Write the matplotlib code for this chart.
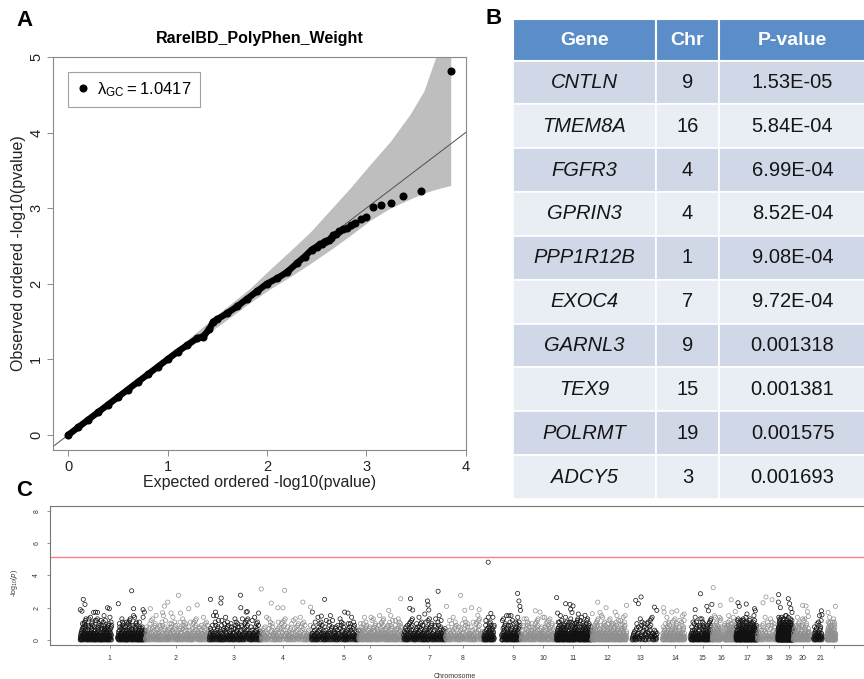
import numpy as np
import matplotlib
matplotlib.use('Agg')
import matplotlib.pyplot as plt
from matplotlib import rcParams
from matplotlib.lines import Line2D
from matplotlib.patches import Rectangle

rcParams['font.family'] = ['Liberation Sans', 'DejaVu Sans']
rcParams['mathtext.default'] = 'regular'

W, H = 864.0, 679.0   # figure size in pixels

# ---------------- panel B : top genes ----------------
top_genes = ['CNTLN', 'TMEM8A', 'FGFR3', 'GPRIN3', 'PPP1R12B',
             'EXOC4', 'GARNL3', 'TEX9', 'POLRMT', 'ADCY5']
top_chr = [9, 16, 4, 4, 1, 7, 9, 15, 19, 3]
top_pval = ['1.53E-05', '5.84E-04', '6.99E-04', '8.52E-04', '9.08E-04',
            '9.72E-04', '0.001318', '0.001381', '0.001575', '0.001693']
top_pos = [16.6, 3.7, 0.35, 89.4, 197.0, 131.3, 128.8, 57.7, 3.3, 119.4]  # Mb in chromosome

# ---------------- panel A : QQ plot ----------------
lambda_gc = 1.0417
qq_top_exp = [3.85, 3.55, 3.37, 3.25, 3.15, 3.07, 3.00, 2.95, 2.89, 2.85]
qq_tail_exp = [2.81, 2.77, 2.73, 2.70, 2.67, 2.64, 2.62, 2.59, 2.57, 2.55]
qq_tail_obs = [2.74, 2.73, 2.70, 2.66, 2.65, 2.60, 2.58, 2.56, 2.55, 2.53]
qq_body_exp = [0.00, 0.10, 0.20, 0.30, 0.40, 0.50, 0.60, 0.70, 0.80, 0.90, 1.00,
               1.10, 1.20, 1.30, 1.36, 1.42, 1.46, 1.50, 1.60, 1.70, 1.80, 1.90,
               2.00, 2.10, 2.20, 2.30, 2.38, 2.45, 2.50, 2.53]
qq_body_obs = [0.00, 0.10, 0.20, 0.30, 0.40, 0.50, 0.60, 0.70, 0.80, 0.90, 1.00,
               1.10, 1.19, 1.28, 1.30, 1.40, 1.50, 1.53, 1.61, 1.70, 1.80, 1.90,
               2.00, 2.07, 2.15, 2.27, 2.36, 2.45, 2.49, 2.52]
ci_exp = [1.00, 1.50, 1.83, 2.03, 2.23, 2.44, 2.64, 2.84, 3.04, 3.24, 3.44, 3.58, 3.70, 3.85]
ci_hi = [1.04, 1.59, 1.94, 2.19, 2.43, 2.69, 2.98, 3.27, 3.58, 3.88, 4.24, 4.55, 5.00, 5.60]
ci_lo = [0.96, 1.43, 1.75, 1.93, 2.09, 2.27, 2.45, 2.64, 2.84, 3.00, 3.12, 3.20, 3.25, 3.30]

# ---------------- panel C : Manhattan plot ----------------
chr_len = [249.3, 243.2, 198.0, 191.2, 180.9, 171.1, 159.1, 146.4, 141.2, 135.5, 135.0,
           133.9, 115.2, 107.3, 102.5, 90.4, 81.2, 78.1, 59.1, 63.0, 48.1, 51.3]
chr_arms = [[(1, 121), (144, 248)], [(0.5, 242)], [(0.5, 197)], [(0.3, 190)],
            [(0.2, 180)], [(0.3, 170)], [(0.5, 158)], [(0.5, 145)],
            [(0.2, 40), (68, 140)], [(0.1, 135)], [(0.2, 134)], [(0.2, 133)],
            [(19.5, 114.5)], [(20, 106)], [(20, 102)], [(0.1, 35), (46, 90)],
            [(0.1, 81)], [(0.1, 77.5)], [(0.3, 58.9)], [(0.1, 62.8)],
            [(15, 47.8)], [(17, 51)]]
chr_ticks = [113.0, 366.4, 586.3, 773.3, 1006.1, 1104.2, 1331.3, 1460.3, 1651.1, 1765.6,
             1880.2, 2011.5, 2134.7, 2268.3, 2374.0, 2443.9, 2542.0, 2627.1, 2700.8,
             2755.7, 2821.8, 2872.5]
chr_tick_labels = [str(i) for i in range(1, 22)] + ['']
bonferroni = 5.15

# bulk of genes per chromosome, in genomic order; each hex digit = -log10(p) in tenths
bulk = [
    ('01203415021607a314280317a25b40186c29d31440120351620918d20314'
     '1402e358106a273b041921304105382016c0142320c14073d528160391a2'
     '20130512049c103620713105b2940f1637082c1431052140783102609413'
     '0a2613e504172b83091212053401a628130240714101d7329b05162a8034'
     '13024018253061b204100317a25b40186c29d31402143706102519304f12'
     '1402e358106a273b041930210450136207b1482002316014270385102e41'
     '0231402516'),
    ('10428031502637014a2120c14073d528160391a204120627301452089130'
     '3105b2940f1637082c1401203415021607a314280a2613e504172b830912'
     '30210450136207b148204101d7329b05162a803413024018253061b20410'
     '0317a25b40186c29d314310521407831026094131402e358106a273b0419'
     '210430'),
    ('02143706102519304f123105b2940f1637082c1420130512049c10362071'
     '0a2613e504172b83091212053401a628130240714101d7329b05162a8034'
     '40120351620918d203140317a25b40186c29d31421304105382016c01423'
     '1402e358106a273b04190314201520'),
    ('02316014270385102e414101d7329b05162a803430210450136207b14820'
     '0317a25b40186c29d31410428031502637014a2120c14073d528160391a2'
     '1402e358106a273b04190120341205162031902'),
    ('13024018253061b204101402e358106a273b041921304105382016c01423'
     '3105b2940f1637082c14310521407831026094134101d7329b05162a8034'
     '01203415021607a314280a2613e504172b830912103250142062'),
    ('12053401a628130240710a2613e504172b83091202316014270385102e41'
     '20c14073d528160391a202143706102519304f120317a25b40186c29d314'
     '041206273014520891303105b2940f1637082c1420130512049c10362071'
     '4101d7329b05162a8034041230512'),
    ('310521407831026094130317a25b40186c29d31401203415021607a31428'
     '1402e358106a273b041930210450136207b1482020c14073d528160391a2'
     '40120351620918d203143105b2940f1637082c14203104162510307'),
    ('21304105382016c014230a2613e504172b83091210428031502637014a21'
     '4101d7329b05162a803413024018253061b204100317a25b40186c29d314'
     '0213045102'),
    ('20130512049c103620711402e358106a273b041904120627301452089130'
     '20c14073d528160391a202143706102519304f123105b2940f1637082c14'
     '30210450136207b148200a2613e504172b83091213'),
    ('40120351620918d203144101d7329b05162a803412053401a62813024071'
     '0317a25b40186c29d31402316014270385102e411402e358106a273b0419'
     '20c14073d528160391a221036041052130921'),
    ('30210450136207b148203105b2940f1637082c1431052140783102609413'
     '0a2613e504172b83091213024018253061b204104101d7329b05162a8034'
     '01203415021607a314280317a25b40186c29d31421304105382016c01423'
     '1402e358106a273b041910428031502637014a2120c14073d528160391a2'
     '02143016250812041'),
    ('041206273014520891300317a25b40186c29d31402143706102519304f12'
     '1402e358106a273b041910428031502637014a2120c14073d528160391a2'
     '12053401a628130240713105b2940f1637082c1420130512049c10362071'
     '0a2613e504172b83091201304152'),
    ('01203415021607a314284101d7329b05162a80340317a25b40186c29d314'
     '20410362150314'),
    ('10428031502637014a211402e358106a273b041930210450136207b14820'
     '20c14073d528160391a221304105382016c014233105b2940f1637082c14'
     '012'),
    ('13024018253061b204100a2613e504172b83091240120351620918d20314'
     '4101d7329b05162a8034041206273014520891300317a25b40186c29d314'
     '120'),
    ('02143706102519304f121402e358106a273b041902316014270385102e41'
     '20c14073d528160391a2310521407831026094133105b2940f1637082c14'
     '12053401a628130240710a2613e504172b8309120312420'),
    ('21304105382016c014234101d7329b05162a803420130512049c10362071'
     '0317a25b40186c29d31430210450136207b148201402e358106a273b0419'
     '10428031502637014a2120c14073d528160391a201203415021607a31428'
     '3105b2940f1637082c14041206273014520891303102'),
    ('310521407831026094130a2613e504172b8309124101d7329b05162a8034'
     '01420315'),
    ('02316014270385102e410317a25b40186c29d31412053401a62813024071'
     '1402e358106a273b041940120351620918d2031420c14073d528160391a2'
     '02143706102519304f123105b2940f1637082c1413024018253061b20410'
     '0a2613e504172b83091230210450136207b148204101d7329b05162a8034'
     '20130512049c1036207110325041602318'),
    ('041206273014520891301402e358106a273b041940120351620918d20314'
     '20c14073d528160391a220134025071450312'),
    ('10428031502637014a213105b2940f1637082c142031'),
    ('30210450136207b148200a2613e504172b83091213024018253061b20410'
     '4101d7329b05162a8034012403'),
]

# genes above the bulk: (chromosome, Mb, -log10 p)
peaks = [
    (1, 12.6, 2.51), (1, 19.1, 2.20), (1, 1.1, 1.87), (1, 7.6, 1.78), (1, 51.9, 1.70),
    (1, 59.5, 1.72), (1, 67.2, 1.70), (1, 105.3, 1.99), (1, 111.8, 1.93), (1, 146.2, 2.24),
    (1, 204.6, 1.93), (1, 240.5, 1.87), (1, 245.4, 1.72),
    (2, 19.1, 1.93), (2, 40.8, 1.51), (2, 65.8, 1.68), (2, 72.6, 2.09), (2, 85.2, 2.34),
    (2, 97.8, 1.66), (2, 126.0, 2.76), (2, 133.6, 1.66), (2, 165.3, 1.93), (2, 197.4, 2.16),
    (3, 4.9, 2.51), (3, 24.0, 1.72), (3, 45.8, 2.59), (3, 44.5, 2.28), (3, 120.6, 1.99),
    (3, 141.2, 1.72), (3, 145.0, 1.75), (3, 188.1, 1.66),
    (4, 38.6, 2.28), (4, 63.8, 1.99), (4, 82.9, 1.99), (4, 159.2, 2.34), (4, 188.6, 2.03),
    (5, 3.9, 1.72), (5, 38.2, 1.47), (5, 50.8, 2.51), (5, 127.2, 1.72), (5, 139.8, 1.66),
    (6, 114.2, 1.83), (6, 160.0, 2.55),
    (7, 23.3, 1.95), (7, 25.9, 2.55), (7, 34.4, 1.85), (7, 80.5, 1.60), (7, 90.8, 2.41),
    (7, 93.1, 2.16), (7, 95.8, 1.85),
    (8, 4.2, 2.08), (8, 57.7, 2.76), (8, 74.1, 1.83), (8, 99.7, 1.99), (8, 123.7, 1.52),
    (8, 128.7, 1.87),
    (9, 26.9, 1.64), (9, 34.6, 1.40), (9, 86.9, 1.50), (9, 133.8, 2.41), (9, 137.6, 2.08),
    (9, 139.9, 1.83),
    (10, 55.0, 1.80), (10, 72.8, 1.72),
    (11, 1.0, 2.62), (11, 4.8, 1.66), (11, 35.3, 2.24), (11, 51.8, 2.20), (11, 54.4, 1.90),
    (11, 59.4, 1.70), (11, 63.2, 2.10), (11, 83.4, 1.60), (11, 109.0, 1.52),
    (12, 1.9, 1.62), (12, 22.5, 2.34), (12, 31.3, 1.70), (12, 54.2, 1.99), (12, 88.5, 1.72),
    (12, 126.7, 1.50), (12, 132.2, 2.14),
    (13, 33.6, 2.45), (13, 43.5, 2.24), (13, 53.9, 2.66), (13, 95.9, 1.40), (13, 104.6, 2.03),
    (13, 113.8, 1.83),
    (14, 23.9, 1.99), (14, 26.2, 1.72), (14, 55.9, 1.72), (14, 75.0, 1.80), (14, 102.9, 1.60),
    (15, 37.5, 1.87), (15, 82.1, 2.08), (15, 88.2, 1.80), (15, 101.2, 2.20),
    (16, 30.4, 2.14), (16, 72.4, 2.49), (16, 87.6, 1.75),
    (17, 7.6, 2.30), (17, 12.6, 2.08), (17, 39.3, 2.22), (17, 42.0, 1.60), (17, 71.0, 1.93),
    (17, 73.7, 1.80),
    (18, 21.9, 2.30), (18, 33.3, 2.66), (18, 56.2, 2.49),
    (19, 2.2, 2.34), (19, 9.8, 2.00), (19, 40.3, 2.55), (19, 45.3, 2.24), (19, 49.9, 1.95),
    (19, 54.4, 1.70),
    (20, 35.8, 2.14), (20, 48.8, 2.10), (20, 53.7, 1.75), (20, 57.5, 1.45),
    (21, 44.2, 1.80), (21, 46.5, 1.55),
    (22, 21.6, 1.70), (22, 49.5, 2.08),
]


def fx(px):
    return px / W


def fy(py):
    return 1 - py / H


fig = plt.figure(figsize=(8.64, 6.79), dpi=100)
top_logp = [-np.log10(float(p)) for p in top_pval]

# ================= A : QQ plot =================
ax = fig.add_axes([fx(53), fy(450), 413 / W, 393 / H])
ax.fill_between(ci_exp, ci_lo, ci_hi, color='#bebebe', lw=0, zorder=1)
ax.axline((0, 0), slope=1, color='#505050', lw=0.7, zorder=2)
ax.plot(qq_body_exp, qq_body_obs, '-o', color='k', lw=4.6, ms=4.8,
        solid_capstyle='round', zorder=3)
ax.plot(qq_tail_exp, qq_tail_obs, 'o', color='k', ms=4.8, zorder=3)
ax.plot(qq_top_exp, top_logp, 'o', color='k', ms=4.8, zorder=3)
ax.set_xlim(-0.154, 4.004)
ax.set_ylim(-0.2, 5.0)
ax.set_xticks(range(5))
ax.set_yticks(range(6))
ax.set_yticklabels([str(i) for i in range(6)], rotation=90, va='center')
ax.tick_params(direction='out', length=4.5, width=0.6, color='#777777',
               labelsize=10.5, pad=2.5, labelcolor='#222222')
for sp in ax.spines.values():
    sp.set_color('#8a8a8a')
    sp.set_linewidth(0.8)
leg = ax.legend(handles=[Line2D([], [], marker='o', color='k', ls='', ms=4.8)],
                labels=[r'$\lambda_{GC} = %.4f$' % lambda_gc],
                loc='upper left', bbox_to_anchor=(0.036, 0.962), borderaxespad=0,
                fancybox=False, fontsize=12, handlelength=0.8, handletextpad=0.45,
                borderpad=0.5)
leg.get_frame().set_edgecolor('#8a8a8a')
leg.get_frame().set_linewidth(0.8)

fig.text(fx(259.5), fy(38), 'RareIBD_PolyPhen_Weight', fontsize=11.5,
         weight='bold', ha='center', va='center')
fig.text(fx(259.5), fy(482), 'Expected ordered -log10(pvalue)', fontsize=11.5,
         ha='center', va='center', color='#222222')
fig.text(fx(18.5), fy(253.5), 'Observed ordered -log10(pvalue)', fontsize=11.5,
         ha='center', va='center', rotation=90, color='#222222')

# ================= B : table =================
axt = fig.add_axes([fx(513), fy(499), 353 / W, 480 / H])
axt.set_xlim(0, 353)
axt.set_ylim(480, 0)
axt.axis('off')
col_edges = [0, 143, 206, 353]
head_h = 41.5
row_h = (480 - head_h) / len(top_genes)
header = ['Gene', 'Chr', 'P-value']
for j in range(3):
    x0, x1 = col_edges[j], col_edges[j + 1]
    axt.add_patch(Rectangle((x0, 0), x1 - x0, head_h, fc='#5b8ec9', ec='white', lw=1.5))
    axt.text((x0 + x1) / 2, head_h / 2 + 1, header[j], color='white', fontsize=14,
             weight='bold', ha='center', va='center')
for i in range(len(top_genes)):
    y0 = head_h + i * row_h
    fc = '#d0d8e8' if i % 2 == 0 else '#e9edf4'
    cells = [top_genes[i], str(top_chr[i]), top_pval[i]]
    for j in range(3):
        x0, x1 = col_edges[j], col_edges[j + 1]
        axt.add_patch(Rectangle((x0, y0), x1 - x0, row_h, fc=fc, ec='white', lw=1.2))
        axt.text((x0 + x1) / 2, y0 + row_h / 2, cells[j], fontsize=14.5,
                 style='italic' if j == 0 else 'normal', color='#151515',
                 ha='center', va='center')

# ================= C : Manhattan plot =================
offsets = np.concatenate([[0], np.cumsum(chr_len)[:-1]])
colors = ['#111111', '#8f8f8f']
axm = fig.add_axes([fx(50), fy(645), 816 / W, 139.3 / H])
xs_all = []
for c in range(22):
    vals = np.array([int(ch, 16) / 10.0 for ch in bulk[c]])
    arms = chr_arms[c]
    lens = np.array([b - a for a, b in arms])
    counts = np.round(len(vals) * lens / lens.sum()).astype(int)
    counts[-1] = len(vals) - counts[:-1].sum()
    pos = np.concatenate([np.linspace(a, b, k) for (a, b), k in zip(arms, counts)])
    pk = [(p, v) for ch, p, v in peaks if ch == c + 1]
    pk += [(p, v) for ch, p, v in zip(top_chr, top_pos, top_logp) if ch == c + 1]
    x = np.concatenate([pos, [p for p, v in pk]]) + offsets[c]
    y = np.concatenate([vals, [v for p, v in pk]])
    xs_all.append(x)
    axm.scatter(x, y, s=9, facecolors='none', edgecolors=colors[c % 2],
                linewidths=0.5, zorder=2)
xs_all = np.concatenate(xs_all)
pad = 0.04 * (xs_all.max() - xs_all.min())
axm.set_xlim(xs_all.min() - pad, xs_all.max() + pad)
axm.set_ylim(-0.32, 8.32)
axm.axhline(bonferroni, color='#ff8080', lw=1.0, zorder=1)
axm.set_xticks(chr_ticks)
axm.set_xticklabels(chr_tick_labels)
axm.set_yticks([0, 2, 4, 6, 8])
axm.set_yticklabels(['0', '2', '4', '6', '8'], rotation=90, va='center')
axm.tick_params(direction='out', length=2.5, width=0.5, color='#666666',
                labelsize=5, pad=4.5, labelcolor='#333333')
for sp in axm.spines.values():
    sp.set_color('#777777')
    sp.set_linewidth(0.8)
fig.text(fx(455), fy(676), 'Chromosome', fontsize=5, ha='center', va='center',
         color='#333333')
fig.text(fx(15), fy(583), r'-log$_{10}$($\it{p}$)', fontsize=5, ha='center',
         va='center', rotation=90, color='#333333')

# panel letters
fig.text(fx(24.5), fy(20), 'A', fontsize=16, weight='bold', ha='center', va='center')
fig.text(fx(494), fy(19), 'B', fontsize=16, weight='bold', ha='center', va='center')
fig.text(fx(24), fy(490), 'C', fontsize=16, weight='bold', ha='center', va='center')

fig.savefig('out.png', dpi=100)
